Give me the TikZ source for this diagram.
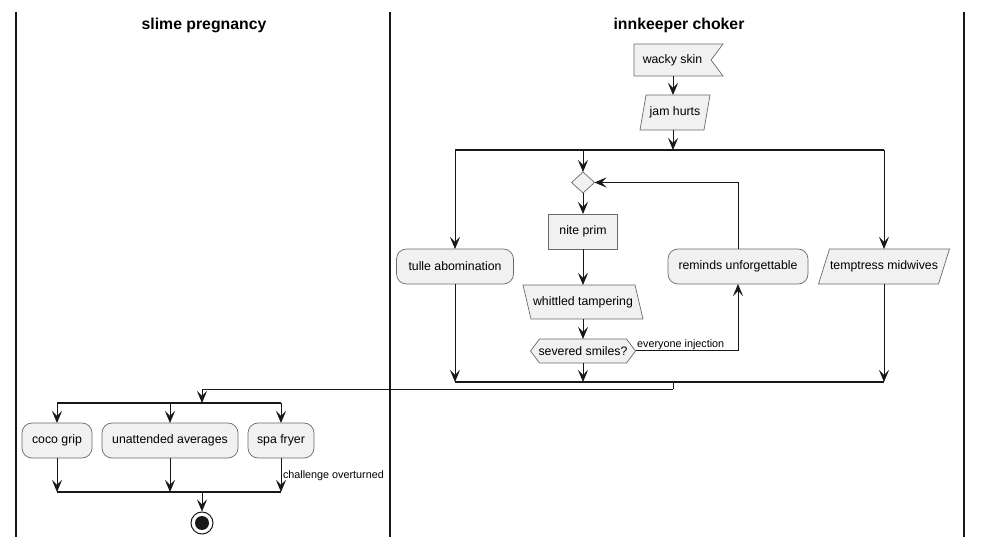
\documentclass[tikz,border=0pt]{standalone}
\usepackage{fontspec}
\setmainfont{Liberation Sans}
\usetikzlibrary{arrows.meta,shapes.geometric,backgrounds}
\definecolor{boxfill}{HTML}{F1F1F1}
\definecolor{boxline}{HTML}{181818}
\definecolor{boxedge}{HTML}{6A6A6A}
\begin{document}
\begin{tikzpicture}[x=1pt,y=-1pt,
  txt/.style={font=\fontsize{12.3}{14}\selectfont},
  box/.style={txt,draw=none,minimum height=35pt,inner sep=0pt,outer sep=0pt},
  outline/.style={draw=boxedge,fill=boxfill,line width=0.7pt},
  act/.style={box,draw=boxedge,fill=boxfill,line width=0.7pt,rounded corners=10pt},
  rect/.style={box,draw=boxedge,fill=boxfill,line width=0.7pt},
  arr/.style={draw=boxline,line width=1pt,-{Stealth[length=12pt,width=10pt,inset=5pt,line width=0.8pt]}},
  bar/.style={draw=boxline,line width=1.4pt},
  lane/.style={draw=boxline,line width=1.3pt},
  title/.style={font=\bfseries\fontsize{15.8}{19}\selectfont},
  lbl/.style={font=\fontsize{10.8}{12}\selectfont,inner sep=1.5pt}]
\useasboundingbox (0,0) rectangle (983,545);
% swimlanes
\draw[lane] (16,12) -- (16,537);
\draw[lane] (390,12) -- (390,537);
\draw[lane] (964,12) -- (964,537);
\node[title] (t1) at (204,25) {slime pregnancy};
\node[title] (t2) at (679,25) {innkeeper choker};
% nodes (innkeeper choker)
\node[box,minimum width=77pt,minimum height=32pt] (ws) at (672.5,60) {wacky skin};
\node[box,minimum width=70pt] (jh) at (675,112.5) {jam hurts};
\node[diamond,draw=boxedge,fill=boxfill,line width=0.7pt,minimum width=23pt,minimum height=21pt,inner sep=0pt,outer sep=0pt] (d1) at (583,182.5) {};
\node[rect,minimum width=69pt] (np) at (583,231.5) {nite prim};
\node[box,minimum width=120pt,minimum height=34pt] (wt) at (583,302) {whittled tampering};
\node[box,minimum width=105pt,minimum height=24pt] (ss) at (583,351) {severed smiles?};
\node[act,minimum width=117pt] (ta) at (455,266.5) {tulle abomination};
\node[act,minimum width=140pt] (ru) at (738,266.5) {reminds unforgettable};
\node[box,minimum width=131pt] (tm) at (884,266.5) {temptress midwives};
% nodes (slime pregnancy)
\node[act,minimum width=70pt] (cg) at (57,440.5) {coco grip};
\node[act,minimum width=136pt] (ua) at (170,440.5) {unattended averages};
\node[act,minimum width=66pt] (sf) at (281,440.5) {spa fryer};
\node[circle,draw=boxline,line width=1pt,minimum size=22pt,inner sep=0pt] (end) at (202,523) {};
\fill[boxline] (end.center) circle (7pt);
% outlines of special shapes
\begin{scope}[on background layer]
\draw[outline] (ws.north west) -- ([xshift=12pt]ws.north east) -- (ws.east) -- ([xshift=12pt]ws.south east) -- (ws.south west) -- cycle;
\draw[outline] ([xshift=6pt]jh.north west) -- (jh.north east) -- ([xshift=-6pt]jh.south east) -- (jh.south west) -- cycle;
\draw[outline] (wt.north west) -- ([xshift=-8pt]wt.north east) -- (wt.south east) -- ([xshift=8pt]wt.south west) -- cycle;
\draw[outline] ([xshift=11pt]tm.north west) -- (tm.north east) -- ([xshift=-11pt]tm.south east) -- (tm.south west) -- cycle;
\draw[outline] (ss.west) -- ([xshift=9pt]ss.north west) -- ([xshift=-9pt]ss.north east) -- (ss.east) -- ([xshift=-9pt]ss.south east) -- ([xshift=9pt]ss.south west) -- cycle;
\end{scope}
% bars
\coordinate (fbL) at (455,150);
\coordinate (fbR) at (884,150);
\coordinate (fbM) at (673,150);
\coordinate (fbC) at (583,150);
\coordinate (jL) at (455,382);
\coordinate (jR) at (884,382);
\coordinate (jM) at (673,382);
\coordinate (lk) at (673,389);
\coordinate (f2L) at (57,403);
\coordinate (f2R) at (281,403);
\coordinate (f2M) at (202,403);
\coordinate (j2L) at (57,492);
\coordinate (j2R) at (281,492);
\coordinate (j2M) at (202,492);
\draw[bar] (fbL) -- (fbR);
\draw[bar] (jL) -- (jR);
\draw[bar] (f2L) -- (f2R);
\draw[bar] (j2L) -- (j2R);
% connectors
\draw[arr] (ws.south -| fbM) -- (fbM |- jh.north);
\draw[arr] (jh.south -| fbM) -- (fbM);
\draw[arr] (fbL) -- (ta.north);
\draw[arr] (fbC) -- (d1.north);
\draw[arr] (fbR) -- (tm.north);
\draw[arr] (d1.south) -- (np.north);
\draw[arr] (np.south) -- (np.south |- wt.north);
\draw[arr] (wt.south -| ss) -- (ss.north);
\draw[arr] (ss.south) -- (ss.south |- jL);
\draw[arr] (ss.east) -| (ru.south);
\node[lbl,anchor=south west] (lb1) at (ss.east) {everyone injection};
\draw[arr] (ru.north) |- (d1.east);
\draw[arr] (ta.south) -- (ta.south |- jL);
\draw[arr] (tm.south) -- (tm.south |- jR);
\draw[draw=boxline,line width=1pt] (jM) -- (lk);
\draw[arr] (lk) -| (f2M);
\draw[arr] (f2L) -- (cg.north);
\draw[arr] (ua.north |- f2L) -- (ua.north);
\draw[arr] (f2R) -- (sf.north);
\draw[arr] (cg.south) -- (j2L);
\draw[arr] (ua.south) -- (ua.south |- j2L);
\draw[arr] (sf.south) -- node[lbl,anchor=west,pos=0.53] (lb2) {challenge overturned} (j2R);
\draw[arr] (j2M) -- (end.north);
\end{tikzpicture}
\end{document}
